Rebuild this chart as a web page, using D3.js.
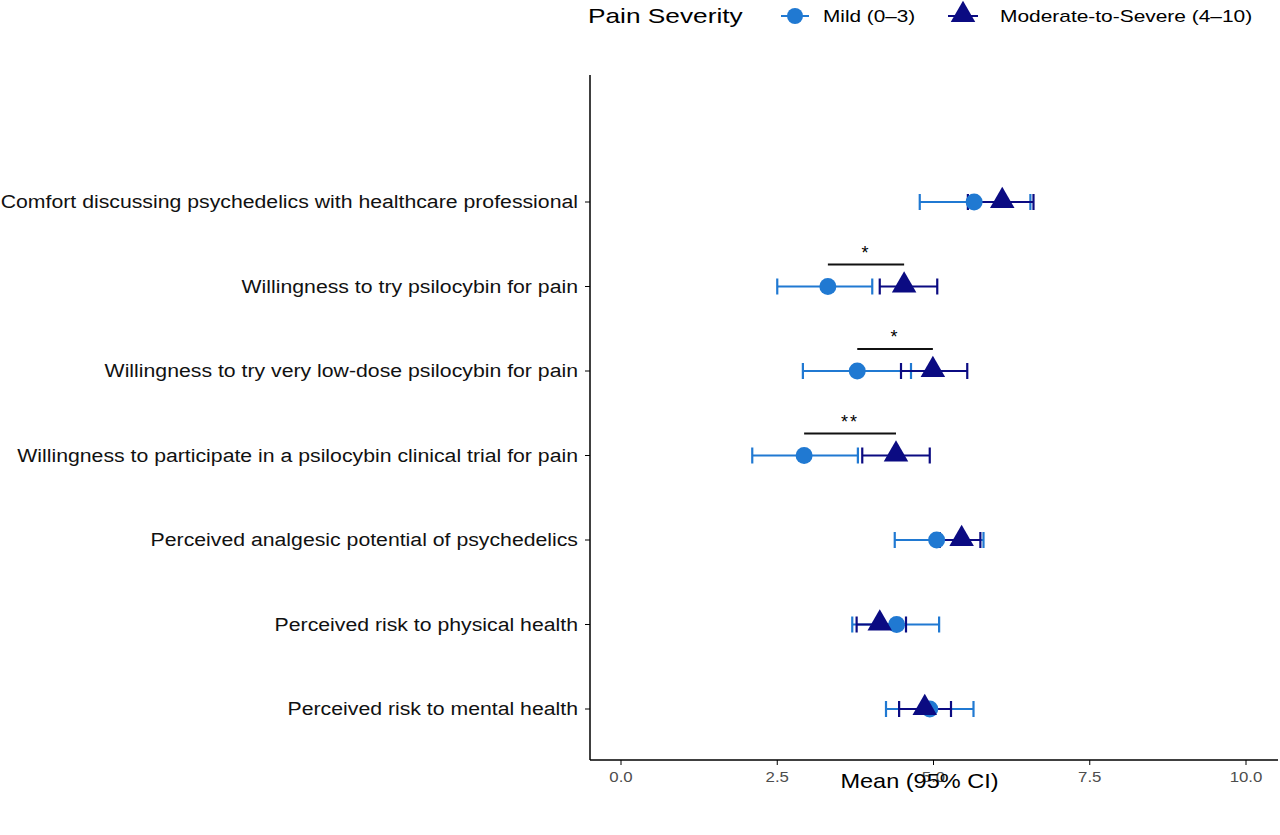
<!DOCTYPE html><html><head><meta charset="utf-8">
<script src="https://cdn.jsdelivr.net/npm/d3@7"></script>
<style>body{margin:0;background:#fff}text{font-family:"Liberation Sans",Arial,sans-serif}</style></head><body>
<svg id="c" width="1280" height="835"></svg>
<script>
const categories=["Comfort discussing psychedelics with healthcare professional","Willingness to try psilocybin for pain","Willingness to try very low-dose psilocybin for pain","Willingness to participate in a psilocybin clinical trial for pain","Perceived analgesic potential of psychedelics","Perceived risk to physical health","Perceived risk to mental health"];
const mildMean=[5.65,3.31,3.78,2.93,5.05,4.41,4.94];
const mildLo=[4.78,2.5,2.91,2.1,4.38,3.7,4.24];
const mildHi=[6.55,4.02,4.64,3.79,5.8,5.09,5.64];
const modMean=[6.1,4.53,4.99,4.4,5.45,4.14,4.86];
const modLo=[5.55,4.14,4.48,3.86,5.1,3.77,4.45];
const modHi=[6.6,5.06,5.54,4.94,5.75,4.56,5.28];
const sigRows=[1,2,3];const sigLabels=["*","*","**"];
const ticks=[0,2.5,5,7.5,10];
const svg=d3.select("#c");
function stretch(sel,f){const n=sel.node();const w=n.getComputedTextLength();sel.attr("textLength",w*f).attr("lengthAdjust","spacingAndGlyphs");return sel;}
const x=d3.scaleLinear().domain([0,10]).range([621,1246]);
const y=d3.scalePoint().domain(categories).range([202,709]);
const L=590,R=1278,B=760,T=75;
svg.append("line").attr("x1",L).attr("x2",L).attr("y1",T).attr("y2",B).attr("stroke","#000").attr("stroke-width",1.5);
svg.append("line").attr("x1",L).attr("x2",R).attr("y1",B).attr("y2",B).attr("stroke","#000").attr("stroke-width",1.5);
ticks.forEach(t=>{svg.append("line").attr("x1",x(t)).attr("x2",x(t)).attr("y1",B).attr("y2",B+5).attr("stroke","#000");
stretch(svg.append("text").attr("x",x(t)).attr("y",B+22).attr("text-anchor","middle").attr("font-size",15).attr("fill","#4d4d4d").text(t.toFixed(1)),1.12);});
categories.forEach(c=>{svg.append("line").attr("x1",L-5).attr("x2",L).attr("y1",y(c)).attr("y2",y(c)).attr("stroke","#000");
stretch(svg.append("text").attr("x",L-12).attr("y",y(c)+6).attr("text-anchor","end").attr("font-size",18).attr("fill","#111").text(c),1.18);});
stretch(svg.append("text").attr("x",x(5)-14).attr("y",B+29).attr("text-anchor","middle").attr("font-size",21).text("Mean (95% CI)").attr("y",B+28),1.12);
const cM="#2079d2",cS="#0b0b82";
function bars(lo,hi,col){categories.forEach((c,i)=>{const yy=y(c);
svg.append("line").attr("x1",x(lo[i])).attr("x2",x(hi[i])).attr("y1",yy).attr("y2",yy).attr("stroke",col).attr("stroke-width",2.2);
[lo[i],hi[i]].forEach(v=>svg.append("line").attr("x1",x(v)).attr("x2",x(v)).attr("y1",yy-8).attr("y2",yy+8).attr("stroke",col).attr("stroke-width",2.2));});}
bars(mildLo,mildHi,cM);bars(modLo,modHi,cS);
categories.forEach((c,i)=>svg.append("circle").attr("cx",x(mildMean[i])).attr("cy",y(c)).attr("r",8.5).attr("fill",cM));
const tri=d3.symbol().type(d3.symbolTriangle).size(260);
categories.forEach((c,i)=>svg.append("path").attr("d",tri()).attr("transform",`translate(${x(modMean[i])},${y(c)-1})`).attr("fill",cS));
sigRows.forEach((r,k)=>{const yy=y(categories[r])-22;
svg.append("line").attr("x1",x(mildMean[r])).attr("x2",x(modMean[r])).attr("y1",yy).attr("y2",yy).attr("stroke","#111").attr("stroke-width",2);
svg.append("text").attr("x",(x(mildMean[r])+x(modMean[r]))/2).attr("y",yy-6).attr("text-anchor","middle").attr("font-size",18).attr("letter-spacing",2).text(sigLabels[k]);});
const lg=svg.append("g");
stretch(lg.append("text").attr("x",588).attr("y",23).attr("font-size",21).text("Pain Severity"),1.25);
lg.append("line").attr("x1",781).attr("x2",809).attr("y1",16).attr("y2",16).attr("stroke",cM).attr("stroke-width",2);
lg.append("circle").attr("cx",795).attr("cy",16).attr("r",8).attr("fill",cM);
stretch(lg.append("text").attr("x",823).attr("y",22).attr("font-size",17).text("Mild (0–3)"),1.22);
lg.append("line").attr("x1",948).attr("x2",978).attr("y1",16).attr("y2",16).attr("stroke",cS).attr("stroke-width",2);
lg.append("path").attr("d",tri()).attr("transform","translate(963,15)").attr("fill",cS);
stretch(lg.append("text").attr("x",1000).attr("y",22).attr("font-size",17).text("Moderate-to-Severe (4–10)"),1.23);
</script></body></html>
